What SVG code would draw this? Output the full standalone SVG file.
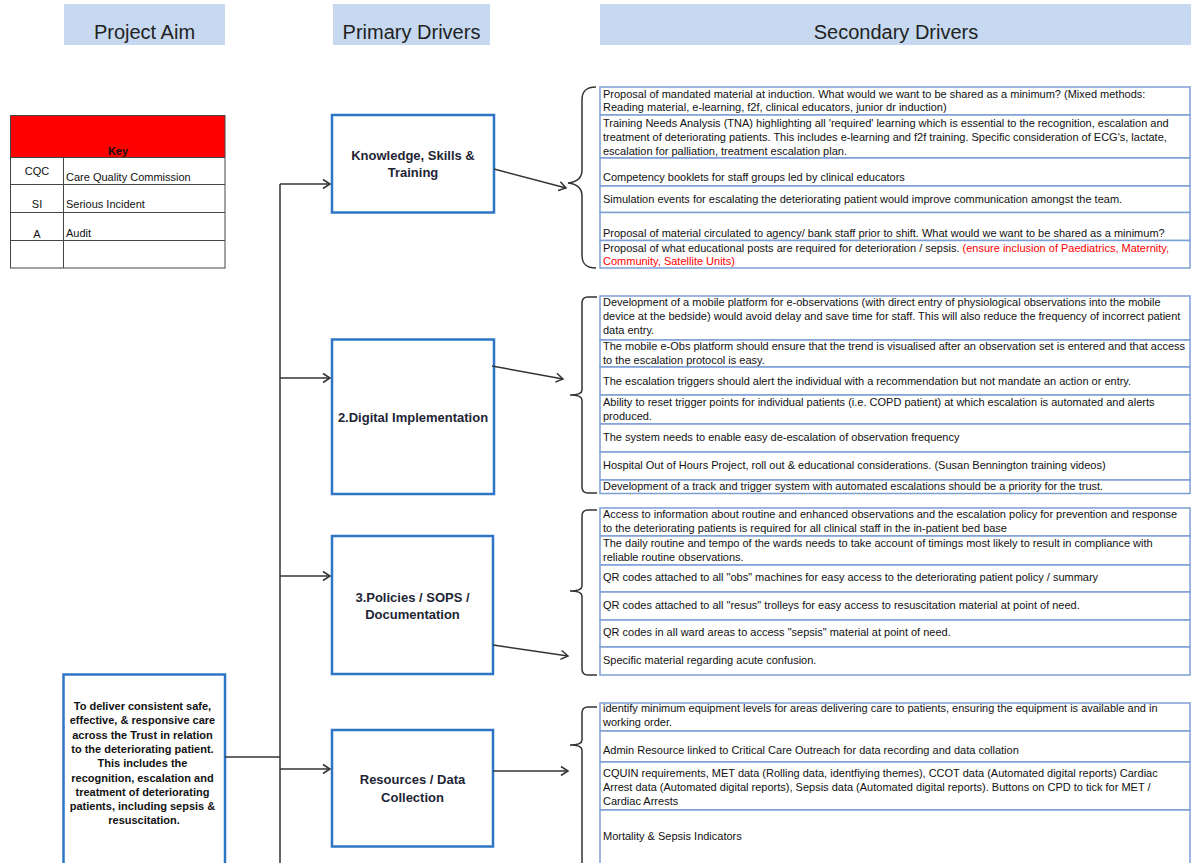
<svg xmlns="http://www.w3.org/2000/svg" width="1191" height="863" viewBox="0 0 1191 863">
  <defs>
    <style>
      .hdr { fill: #c6d9f0; }
      .hdr-t { font-family: "Liberation Sans", Arial, sans-serif; font-size: 20px; fill: #222; text-anchor: middle; }
      .prim { fill: #fff; stroke: #2e75c6; stroke-width: 2.5; }
      .prim-t { font-family: "Liberation Sans", Arial, sans-serif; font-size: 13px; font-weight: bold; fill: #1e2535; text-anchor: middle; }
      .aim-t { font-family: "Liberation Sans", Arial, sans-serif; font-size: 11px; font-weight: bold; fill: #111; text-anchor: middle; }
      .sec { fill: #fff; stroke: #7c9fd6; stroke-width: 1.5; }
      .sec-t { font-family: "Liberation Sans", Arial, sans-serif; font-size: 11px; fill: #111; }
      .red { fill: #ff0000; }
      .key-line { stroke: #444; stroke-width: 1; fill: none; }
      .key-t { font-family: "Liberation Sans", Arial, sans-serif; font-size: 11px; fill: #111; }
      .conn { stroke: #333; stroke-width: 1.5; fill: none; }
      .brace { stroke: #333; stroke-width: 1.5; fill: none; }
    </style>
    <marker id="arrow" markerWidth="12" markerHeight="12" refX="9" refY="6" orient="auto" markerUnits="userSpaceOnUse">
      <path d="M2,1.5 L9,6 L2,10.5" fill="none" stroke="#333" stroke-width="1.5"/>
    </marker>
  </defs>

  <rect width="1191" height="863" fill="#fff"/>

  <!-- column headers -->
  <g id="header-aim">
    <rect class="hdr" x="64" y="4" width="161" height="41"/>
    <text class="hdr-t" x="144.5" y="39">Project Aim</text>
  </g>
  <g id="header-primary">
    <rect class="hdr" x="333" y="4" width="157" height="41"/>
    <text class="hdr-t" x="411.5" y="39">Primary Drivers</text>
  </g>
  <g id="header-secondary">
    <rect class="hdr" x="600" y="4" width="591" height="41"/>
    <text class="hdr-t" x="896" y="39">Secondary Drivers</text>
  </g>

  <!-- key table -->
  <g id="key">
    <rect x="10.5" y="115.5" width="214.5" height="42" fill="#ff0000"/>
    <rect class="key-line" x="10.5" y="115.5" width="214.5" height="152.5"/>
    <line class="key-line" x1="10.5" y1="157.5" x2="225" y2="157.5"/>
    <line class="key-line" x1="10.5" y1="184.5" x2="225" y2="184.5"/>
    <line class="key-line" x1="10.5" y1="212.5" x2="225" y2="212.5"/>
    <line class="key-line" x1="10.5" y1="240.5" x2="225" y2="240.5"/>
    <line class="key-line" x1="63.5" y1="157.5" x2="63.5" y2="268"/>
    <text class="key-t" x="118" y="155" text-anchor="middle" font-weight="bold">Key</text>
    <text class="key-t" x="37" y="175" text-anchor="middle">CQC</text>
    <text class="key-t" x="66" y="181">Care Quality Commission</text>
    <text class="key-t" x="37" y="208" text-anchor="middle">SI</text>
    <text class="key-t" x="66" y="208">Serious Incident</text>
    <text class="key-t" x="37" y="238" text-anchor="middle">A</text>
    <text class="key-t" x="66" y="237">Audit</text>
  </g>

  <!-- project aim -->
  <g id="aim">
    <rect class="prim" x="63.5" y="674.5" width="161.5" height="200"/>
    <text class="aim-t" x="144">
      <tspan x="144" y="710">To deliver consistent safe,</tspan>
      <tspan x="144" y="724.3">effective, &amp; responsive care</tspan>
      <tspan x="144" y="738.6">across the Trust in relation</tspan>
      <tspan x="144" y="752.9">to the deteriorating patient.</tspan>
      <tspan x="144" y="767.2">This includes the</tspan>
      <tspan x="144" y="781.5">recognition, escalation and</tspan>
      <tspan x="144" y="795.8">treatment of deteriorating</tspan>
      <tspan x="144" y="810.1">patients, including sepsis &amp;</tspan>
      <tspan x="144" y="824.4">resuscitation.</tspan>
    </text>
  </g>

  <!-- primary drivers -->
  <g id="primary-knowledge">
    <rect class="prim" x="332" y="115" width="162" height="97.5"/>
    <text class="prim-t"><tspan x="413" y="160">Knowledge, Skills &amp;</tspan><tspan x="413" y="176.5">Training</tspan></text>
  </g>
  <g id="primary-digital">
    <rect class="prim" x="332" y="339.5" width="162" height="154.5"/>
    <text class="prim-t" x="413" y="421.5">2.Digital Implementation</text>
  </g>
  <g id="primary-policies">
    <rect class="prim" x="332" y="536" width="161" height="138"/>
    <text class="prim-t"><tspan x="412.5" y="602">3.Policies / SOPS /</tspan><tspan x="412.5" y="618.5">Documentation</tspan></text>
  </g>
  <g id="primary-resources">
    <rect class="prim" x="332" y="730" width="161" height="116.5"/>
    <text class="prim-t"><tspan x="412.5" y="783.5">Resources / Data</tspan><tspan x="412.5" y="801.5">Collection</tspan></text>
  </g>

  <!-- secondary drivers: knowledge, skills & training -->
  <g id="secondary-knowledge">
    <rect class="sec" x="600" y="87" width="590" height="28"/>
    <rect class="sec" x="600" y="115" width="590" height="43"/>
    <rect class="sec" x="600" y="158" width="590" height="28"/>
    <rect class="sec" x="600" y="186" width="590" height="26.5"/>
    <rect class="sec" x="600" y="212.5" width="590" height="28"/>
    <rect class="sec" x="600" y="240.5" width="590" height="27.5"/>
    <text class="sec-t"><tspan x="603" y="97.5">Proposal of mandated material at induction. What would we want to be shared as a minimum? (Mixed methods:</tspan><tspan x="603" y="111">Reading material, e-learning, f2f, clinical educators, junior dr induction)</tspan></text>
    <text class="sec-t"><tspan x="603" y="127">Training Needs Analysis (TNA) highlighting all 'required' learning which is essential to the recognition, escalation and</tspan><tspan x="603" y="140.5">treatment of deteriorating patients. This includes e-learning and f2f training. Specific consideration of ECG's, lactate,</tspan><tspan x="603" y="154.5">escalation for palliation, treatment escalation plan.</tspan></text>
    <text class="sec-t" x="603" y="181">Competency booklets for staff groups led by clinical educators</text>
    <text class="sec-t" x="603" y="202.5">Simulation events for escalating the deteriorating patient would improve communication amongst the team.</text>
    <text class="sec-t" x="603" y="237">Proposal of material circulated to agency/ bank staff prior to shift. What would we want to be shared as a minimum?</text>
    <text class="sec-t"><tspan x="603" y="251.5">Proposal of what educational posts are required for deterioration / sepsis. <tspan class="red">(ensure inclusion of Paediatrics, Maternity,</tspan></tspan><tspan x="603" y="265" class="red">Community, Satellite Units)</tspan></text>
  </g>

  <!-- secondary drivers: digital implementation -->
  <g id="secondary-digital">
    <rect class="sec" x="600" y="296" width="590" height="44"/>
    <rect class="sec" x="600" y="340" width="590" height="27"/>
    <rect class="sec" x="600" y="367" width="590" height="28"/>
    <rect class="sec" x="600" y="395" width="590" height="29"/>
    <rect class="sec" x="600" y="424" width="590" height="28"/>
    <rect class="sec" x="600" y="452" width="590" height="28"/>
    <rect class="sec" x="600" y="480" width="590" height="13.5"/>
    <text class="sec-t"><tspan x="603" y="306">Development of a mobile platform for e-observations (with direct entry of physiological observations into the mobile</tspan><tspan x="603" y="320">device at the bedside) would avoid delay and save time for staff. This will also reduce the frequency of incorrect patient</tspan><tspan x="603" y="334">data entry.</tspan></text>
    <text class="sec-t"><tspan x="603" y="350">The mobile e-Obs platform should ensure that the trend is visualised after an observation set is entered and that access</tspan><tspan x="603" y="364">to the escalation protocol is easy.</tspan></text>
    <text class="sec-t" x="603" y="385">The escalation triggers should alert the individual with a recommendation but not mandate an action or entry.</text>
    <text class="sec-t"><tspan x="603" y="406">Ability to reset trigger points for individual patients (i.e. COPD patient) at which escalation is automated and alerts</tspan><tspan x="603" y="420">produced.</tspan></text>
    <text class="sec-t" x="603" y="441">The system needs to enable easy de-escalation of observation frequency</text>
    <text class="sec-t" x="603" y="469">Hospital Out of Hours Project, roll out &amp; educational considerations. (Susan Bennington training videos)</text>
    <text class="sec-t" x="603" y="490">Development of a track and trigger system with automated escalations should be a priority for the trust.</text>
  </g>

  <!-- secondary drivers: policies / SOPS / documentation -->
  <g id="secondary-policies">
    <rect class="sec" x="600" y="508" width="590" height="28"/>
    <rect class="sec" x="600" y="536" width="590" height="29"/>
    <rect class="sec" x="600" y="565" width="590" height="27"/>
    <rect class="sec" x="600" y="592" width="590" height="28"/>
    <rect class="sec" x="600" y="620" width="590" height="27"/>
    <rect class="sec" x="600" y="647" width="590" height="28"/>
    <text class="sec-t"><tspan x="603" y="518">Access to information about routine and enhanced observations and the escalation policy for prevention and response</tspan><tspan x="603" y="532">to the deteriorating patients is required for all clinical staff in the in-patient bed base</tspan></text>
    <text class="sec-t"><tspan x="603" y="547">The daily routine and tempo of the wards needs to take account of timings most likely to result in compliance with</tspan><tspan x="603" y="561">reliable routine observations.</tspan></text>
    <text class="sec-t" x="603" y="581">QR codes attached to all "obs" machines for easy access to the deteriorating patient policy / summary</text>
    <text class="sec-t" x="603" y="609">QR codes attached to all "resus" trolleys for easy access to resuscitation material at point of need.</text>
    <text class="sec-t" x="603" y="636">QR codes in all ward areas to access "sepsis" material at point of need.</text>
    <text class="sec-t" x="603" y="664">Specific material regarding acute confusion.</text>
  </g>

  <!-- secondary drivers: resources / data collection -->
  <g id="secondary-resources">
    <rect class="sec" x="600" y="703" width="590" height="28"/>
    <rect class="sec" x="600" y="731" width="590" height="31"/>
    <rect class="sec" x="600" y="762" width="590" height="48"/>
    <rect class="sec" x="600" y="810" width="590" height="60"/>
    <text class="sec-t"><tspan x="603" y="712">identify minimum equipment levels for areas delivering care to patients, ensuring the equipment is available and  in</tspan><tspan x="603" y="726">working order.</tspan></text>
    <text class="sec-t" x="603" y="754">Admin Resource linked to Critical Care Outreach for data recording and data collation</text>
    <text class="sec-t"><tspan x="603" y="777">CQUIN requirements, MET data (Rolling data, identfiying themes), CCOT data (Automated digital reports) Cardiac</tspan><tspan x="603" y="791">Arrest data (Automated digital reports), Sepsis data (Automated digital reports). Buttons on CPD to tick for MET /</tspan><tspan x="603" y="805">Cardiac Arrests</tspan></text>
    <text class="sec-t" x="603" y="840">Mortality &amp; Sepsis Indicators</text>
  </g>

  <!-- connectors -->
  <g id="connectors">
    <!-- spine from the project aim to each primary driver -->
    <path class="conn" d="M225,757 H280"/>
    <path class="conn" d="M280,184 V863"/>
    <path class="conn" d="M280,184 H330" marker-end="url(#arrow)"/>
    <path class="conn" d="M280,378 H330" marker-end="url(#arrow)"/>
    <path class="conn" d="M280,576 H330" marker-end="url(#arrow)"/>
    <path class="conn" d="M280,769 H330" marker-end="url(#arrow)"/>

    <!-- primary to secondary groups -->
    <path class="conn" d="M494,169 L566,188" marker-end="url(#arrow)"/>
    <path class="conn" d="M492,366 L563,379" marker-end="url(#arrow)"/>
    <path class="conn" d="M493,645 L568,656" marker-end="url(#arrow)"/>
    <path class="conn" d="M493,771 H568" marker-end="url(#arrow)"/>

    <!-- braces grouping the secondary drivers -->
    <path class="brace" d="M596,87 C586,87 582,91 582,100 L582,170 C582,178 577,182 568,183 C577,184 582,188 582,196 L582,255 C582,264 586,268 596,268"/>
    <path class="brace" d="M597,297 L588,297 Q582,297 582,303 L582,390 Q582,395 570,395 Q582,395 582,400 L582,487 Q582,493 588,493 L597,493"/>
    <path class="brace" d="M597,510 L588,510 Q582,510 582,516 L582,586 Q582,591 570,591 Q582,591 582,596 L582,669 Q582,675 588,675 L597,675"/>
    <path class="brace" d="M597,707 L588,707 Q582,707 582,713 L582,740 Q582,745 570,745 Q582,745 582,750 L582,863"/>
  </g>
</svg>
